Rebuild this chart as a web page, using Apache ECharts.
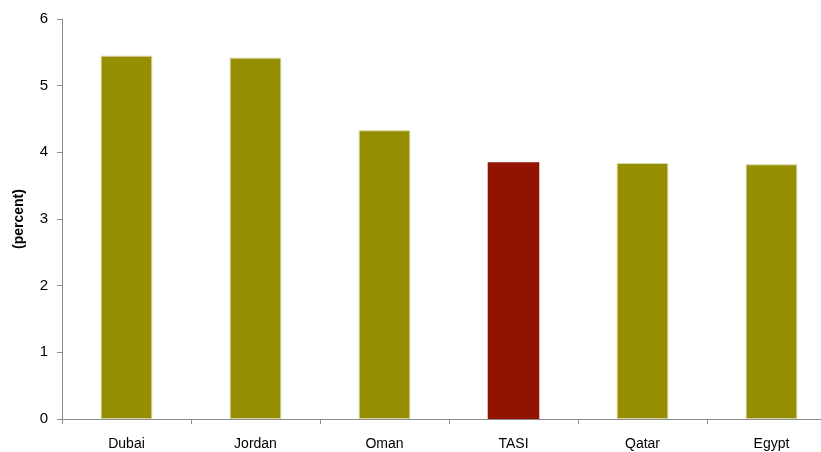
<!DOCTYPE html>
<html>
<head>
<meta charset="utf-8">
<script src="https://cdn.jsdelivr.net/npm/echarts@6/dist/echarts.min.js"></script>
<style>
  html, body { margin: 0; padding: 0; background: #fff; overflow: hidden; }
  #chart { width: 836px; height: 452px; }
</style>
</head>
<body>
<div id="chart"></div>
<script>
// Dividend yield by market
const categories = ['Dubai', 'Jordan', 'Oman', 'TASI', 'Qatar', 'Egypt'];
const values = [5.45, 5.42, 4.33, 3.85, 3.84, 3.82];
const highlight = 'TASI';
const yTicks = [0, 1, 2, 3, 4, 5, 6];

const olive = '#948e00';
const red = '#921400';
const font = 'Liberation Sans, Arial, sans-serif';

const chart = echarts.init(document.getElementById('chart'));
chart.setOption({
  animation: false,
  grid: { left: 62, right: 0, top: 19, bottom: 33, containLabel: false },
  xAxis: {
    type: 'category',
    data: categories,
    axisLine: { lineStyle: { color: '#8c8c8c', width: 1 } },
    axisTick: { show: true, length: 5, alignWithLabel: false, lineStyle: { color: '#8c8c8c' } },
    axisLabel: { color: '#000', fontFamily: font, fontSize: 14, margin: 18 }
  },
  yAxis: {
    type: 'value',
    min: yTicks[0],
    max: yTicks[yTicks.length - 1],
    interval: 1,
    name: '(percent)',
    nameLocation: 'middle',
    nameGap: 36,
    nameTextStyle: { color: '#000', fontFamily: font, fontSize: 14, fontWeight: 'bold' },
    axisLine: { show: true, lineStyle: { color: '#8c8c8c', width: 1 } },
    axisTick: { show: true, inside: false, length: 5, lineStyle: { color: '#8c8c8c' } },
    splitLine: { show: false },
    axisLabel: { color: '#000', fontFamily: font, fontSize: 15, margin: 14 }
  },
  series: [{
    type: 'bar',
    barWidth: '40%',
    data: categories.map((c, i) => ({
      value: values[i],
      itemStyle: c === highlight
        ? { color: red }
        : { color: olive, borderColor: '#d9d6a6', borderWidth: 1 }
    }))
  }]
});
</script>
</body>
</html>
